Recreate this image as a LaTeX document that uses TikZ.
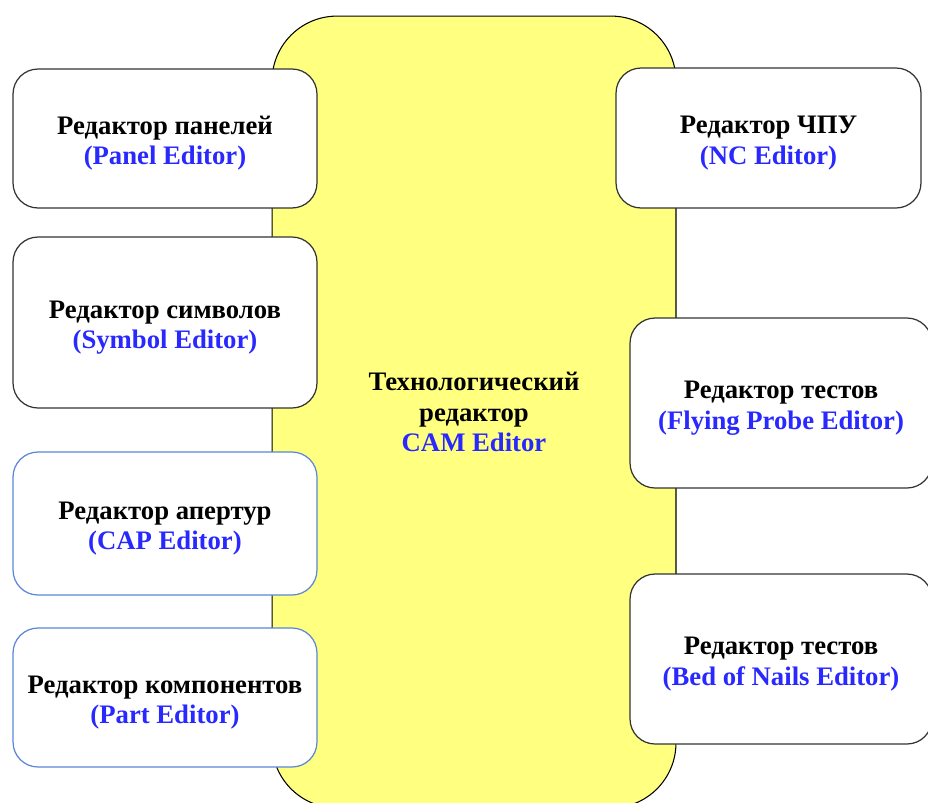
\documentclass[tikz,border=0pt]{standalone}
\usepackage{fontspec}
\setmainfont{Liberation Serif}
\usepackage{tikz}

\definecolor{hubfill}{RGB}{255,255,128}
\definecolor{edblue}{RGB}{90,135,215}
\definecolor{txtblue}{RGB}{40,40,255}

\begin{document}
\begin{tikzpicture}[
  x=0.02cm, y=-0.02cm,
  hub/.style={draw=black, line width=0.6pt, fill=hubfill, rounded corners=1.3cm,
              minimum width=8.08cm, minimum height=15.84cm, inner sep=0pt,
              align=center, font=\bfseries\fontsize{15.2}{17.2}\selectfont},
  ed/.style={draw=black!80, line width=0.7pt, fill=white, rounded corners=0.5cm,
             minimum width=6.08cm, inner sep=0pt, align=center,
             text height=39.7pt, text depth=9.7pt,
             font=\bfseries\fontsize{15.2}{17.5}\selectfont},
  edb/.style={ed, draw=edblue},
]
  \useasboundingbox (0,0) rectangle (928,802);
  \node[hub] (cam) at (474,412) {Технологический\\редактор\\\textcolor{txtblue}{CAM Editor}};
  % left column
  \node[ed, minimum height=2.78cm] (panel) at (165,138.5) {Редактор панелей\\\textcolor{txtblue}{(Panel Editor)}};
  \node[ed, minimum height=3.42cm] (symbol) at (165,322.5) {Редактор символов\\\textcolor{txtblue}{(Symbol Editor)}};
  \node[edb, minimum height=2.86cm] (cap) at (165,523.5) {Редактор апертур\\\textcolor{txtblue}{(CAP Editor)}};
  \node[edb, minimum height=2.78cm] (part) at (165,697.5) {Редактор компонентов\\\textcolor{txtblue}{(Part Editor)}};
  % right column
  \node[ed, minimum width=6.10cm, minimum height=2.80cm] (nc) at (768.5,138) {Редактор ЧПУ\\\textcolor{txtblue}{(NC Editor)}};
  \node[ed, minimum width=6.04cm, minimum height=3.40cm] (probe) at (781,403) {Редактор тестов\\\textcolor{txtblue}{(Flying Probe Editor)}};
  \node[ed, minimum width=6.04cm, minimum height=3.40cm] (nails) at (781,659) {Редактор тестов\\\textcolor{txtblue}{(Bed of Nails Editor)}};
\end{tikzpicture}
\end{document}
